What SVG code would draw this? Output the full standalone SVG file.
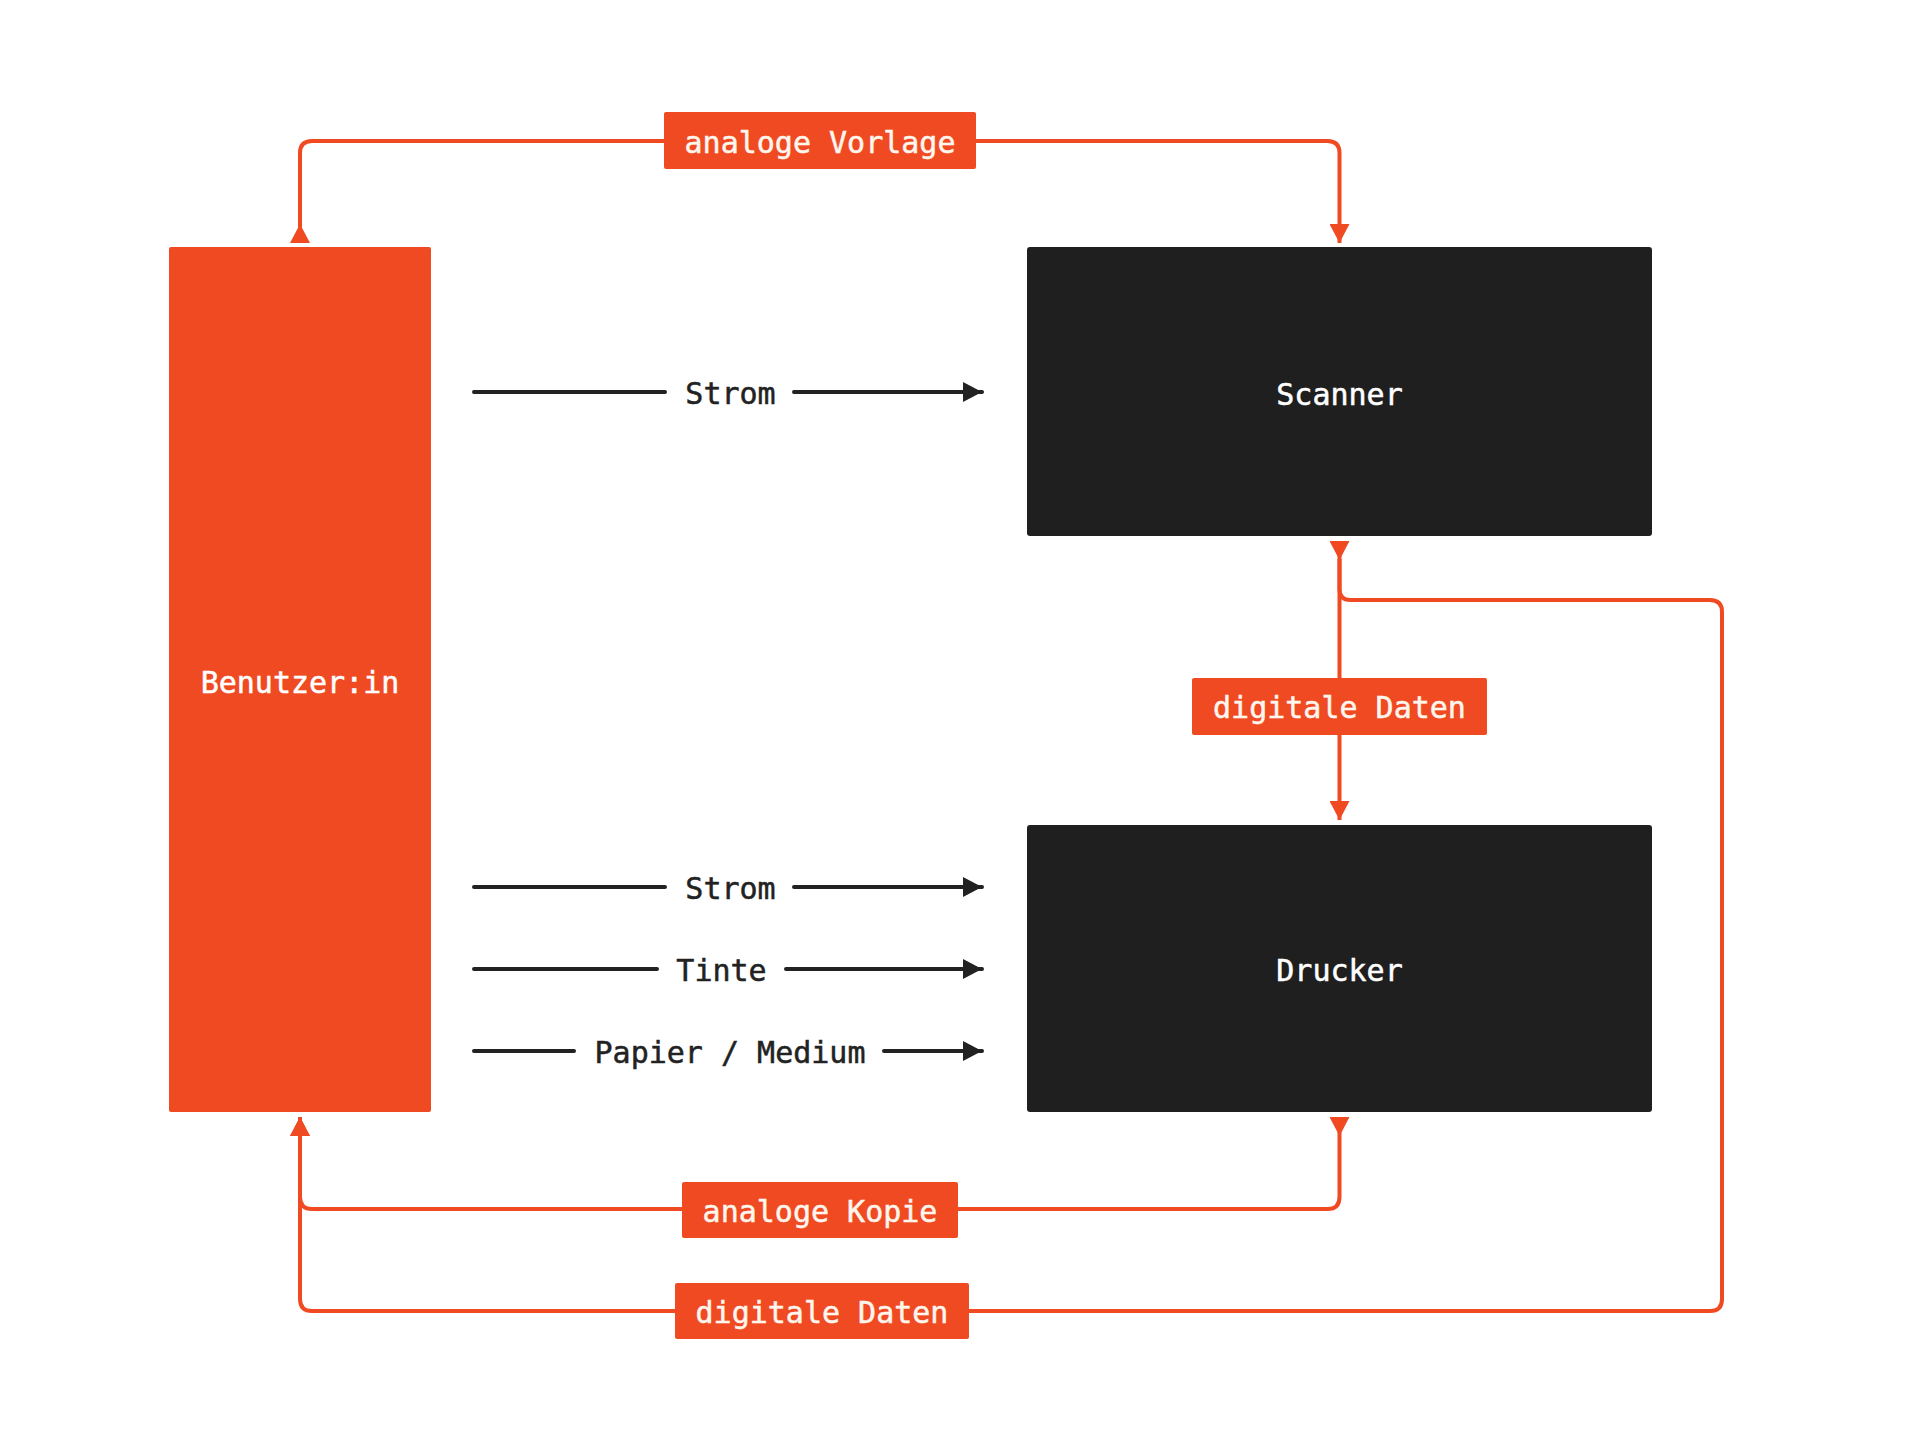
<svg xmlns="http://www.w3.org/2000/svg" width="1920" height="1439" viewBox="0 0 1920 1439">
<style>
.bg{fill:#ffffff}
.user{fill:#F04A23}
.dev{fill:#1f1f1f}
.ntext{font-family:"DejaVu Sans Mono","Liberation Mono",monospace;font-size:30px;fill:#ffffff;stroke:#ffffff;stroke-width:0.5;text-anchor:middle}
.ltext{font-family:"DejaVu Sans Mono","Liberation Mono",monospace;font-size:30px;fill:#FFF6EE;stroke:#FFF6EE;stroke-width:0.5;text-anchor:middle}
.btext{font-family:"DejaVu Sans Mono","Liberation Mono",monospace;font-size:30px;fill:#222222;stroke:#222222;stroke-width:0.5;text-anchor:middle}
.lbox{fill:#F04A23}
.oline{fill:none;stroke:#F04A23;stroke-width:4}
.bline{fill:none;stroke:#222222;stroke-width:4;stroke-linecap:round}
</style>
<defs>
<marker id="otail" markerUnits="userSpaceOnUse" viewBox="0 0 19 20" refX="0" refY="10" markerWidth="19" markerHeight="20" orient="auto">
<path d="M0,0 L19,10 L0,20 Z" fill="#F04A23"/>
</marker>
<marker id="ohead" markerUnits="userSpaceOnUse" viewBox="0 0 19 20" refX="19" refY="10" markerWidth="19" markerHeight="20" orient="auto">
<path d="M0,0 L19,10 L0,20 Z" fill="#F04A23"/>
</marker>
<marker id="bhead" markerUnits="userSpaceOnUse" viewBox="0 0 19 20" refX="19" refY="10" markerWidth="19" markerHeight="20" orient="auto">
<path d="M0,0 L19,10 L0,20 Z" fill="#222222"/>
</marker>
</defs>
<rect class="bg" x="0" y="0" width="1920" height="1439"/>

<g id="connectors">
<path class="oline" d="M300,243 V153 Q300,141 312,141 H1327.5 Q1339.5,141 1339.5,153 V243" marker-start="url(#otail)" marker-end="url(#ohead)"/>
<path class="oline" d="M1339.5,541 V820" marker-start="url(#otail)" marker-end="url(#ohead)"/>
<path class="oline" d="M1339.5,559 V589 Q1339.5,600 1350.5,600 H1710 Q1722,600 1722,612 V1299 Q1722,1311 1710,1311 H312 Q300,1311 300,1299 V1117" marker-end="url(#ohead)"/>
<path class="oline" d="M1339.5,1117 V1197 Q1339.5,1209 1327.5,1209 H312 Q300,1209 300,1197 V1117" marker-start="url(#otail)" marker-end="url(#ohead)"/>

<line class="bline" x1="474" y1="392" x2="665" y2="392"/>
<line class="bline" x1="794" y1="392" x2="982" y2="392" marker-end="url(#bhead)"/>
<text class="btext" x="730.5" y="404">Strom</text>

<line class="bline" x1="474" y1="887" x2="665" y2="887"/>
<line class="bline" x1="794" y1="887" x2="982" y2="887" marker-end="url(#bhead)"/>
<text class="btext" x="730.5" y="899">Strom</text>

<line class="bline" x1="474" y1="969" x2="657" y2="969"/>
<line class="bline" x1="786" y1="969" x2="982" y2="969" marker-end="url(#bhead)"/>
<text class="btext" x="721.5" y="981">Tinte</text>

<line class="bline" x1="474" y1="1051" x2="574" y2="1051"/>
<line class="bline" x1="884" y1="1051" x2="982" y2="1051" marker-end="url(#bhead)"/>
<text class="btext" x="730" y="1063">Papier / Medium</text>

<g id="label-analoge-vorlage">
<rect class="lbox" x="664" y="112" width="312" height="57" rx="2"/>
<text class="ltext" x="820" y="153">analoge Vorlage</text>
</g>
<g id="label-digitale-daten-1">
<rect class="lbox" x="1192" y="678" width="295" height="57" rx="2"/>
<text class="ltext" x="1339.5" y="718">digitale Daten</text>
</g>
<g id="label-analoge-kopie">
<rect class="lbox" x="682" y="1182" width="276" height="56" rx="2"/>
<text class="ltext" x="820" y="1222">analoge Kopie</text>
</g>
<g id="label-digitale-daten-2">
<rect class="lbox" x="675" y="1283" width="294" height="56" rx="2"/>
<text class="ltext" x="822" y="1323">digitale Daten</text>
</g>
</g>

<g id="node-benutzer">
<rect class="user" x="169" y="247" width="262" height="865" rx="2"/>
<text class="ntext" x="300" y="693">Benutzer:in</text>
</g>
<g id="node-scanner">
<rect class="dev" x="1027" y="247" width="625" height="289" rx="3"/>
<text class="ntext" x="1339.5" y="405">Scanner</text>
</g>
<g id="node-drucker">
<rect class="dev" x="1027" y="825" width="625" height="287" rx="3"/>
<text class="ntext" x="1339.5" y="981">Drucker</text>
</g>
</svg>
